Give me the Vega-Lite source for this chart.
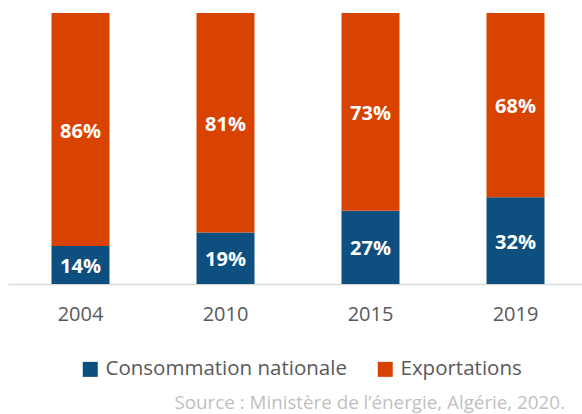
{
  "$schema": "https://vega.github.io/schema/vega-lite/v6.json",
  "width": 580,
  "height": 271,
  "padding": {"left": 8, "top": 13, "right": 0, "bottom": 130},
  "autosize": {"type": "none"},
  "background": "white",
  "config": {
    "view": {"stroke": null},
    "font": "Open Sans"
  },
  "title": {
    "text": "Source : Ministère de l’énergie, Algérie, 2020.",
    "orient": "bottom",
    "anchor": "end",
    "fontSize": 18.8,
    "fontWeight": "normal",
    "color": "#BFBFBF",
    "offset": 14,
    "dx": -23,
    "font": "Open Sans"
  },
  "data": {
    "values": [
      {"annee": "2004", "type": "Consommation nationale", "part": 0.14, "ordre": 1},
      {"annee": "2004", "type": "Exportations", "part": 0.86, "ordre": 2},
      {"annee": "2010", "type": "Consommation nationale", "part": 0.19, "ordre": 1},
      {"annee": "2010", "type": "Exportations", "part": 0.81, "ordre": 2},
      {"annee": "2015", "type": "Consommation nationale", "part": 0.27, "ordre": 1},
      {"annee": "2015", "type": "Exportations", "part": 0.73, "ordre": 2},
      {"annee": "2019", "type": "Consommation nationale", "part": 0.32, "ordre": 1},
      {"annee": "2019", "type": "Exportations", "part": 0.68, "ordre": 2}
    ]
  },
  "transform": [
    {"stack": "part", "groupby": ["annee"], "sort": [{"field": "ordre", "order": "ascending"}], "as": ["p0", "p1"]},
    {"calculate": "(datum.p0 + datum.p1) / 2", "as": "pmid"}
  ],
  "encoding": {
    "x": {
      "field": "annee",
      "type": "nominal",
      "scale": {"paddingInner": 0.6, "paddingOuter": 0.3},
      "axis": {
        "title": null,
        "labelAngle": 0,
        "labelFontSize": 20,
        "labelColor": "#595959",
        "labelPadding": 20,
        "ticks": false,
        "domainColor": "#D9D9D9",
        "domainWidth": 1.5
      }
    }
  },
  "layer": [
    {
      "mark": {"type": "bar"},
      "encoding": {
        "y": {"field": "p0", "type": "quantitative", "scale": {"domain": [0, 1]}, "axis": null},
        "y2": {"field": "p1"},
        "color": {
          "field": "type",
          "type": "nominal",
          "scale": {"domain": ["Consommation nationale", "Exportations"], "range": ["#0D4F7F", "#D94301"]},
          "legend": {
            "title": null,
            "orient": "none",
            "direction": "horizontal",
            "legendX": 72,
            "legendY": 346,
            "symbolType": "square",
            "symbolSize": 225,
            "symbolStrokeWidth": 0,
            "labelFontSize": 20.5,
            "labelColor": "#595959",
            "labelLimit": 400,
            "columnPadding": 28,
            "labelOffset": 5
          }
        }
      }
    },
    {
      "mark": {"type": "text", "color": "white", "fontWeight": "bold", "fontSize": 20, "baseline": "middle", "dy": 2},
      "encoding": {
        "y": {"field": "pmid", "type": "quantitative"},
        "text": {"field": "part", "type": "quantitative", "format": ".0%"}
      }
    }
  ]
}
